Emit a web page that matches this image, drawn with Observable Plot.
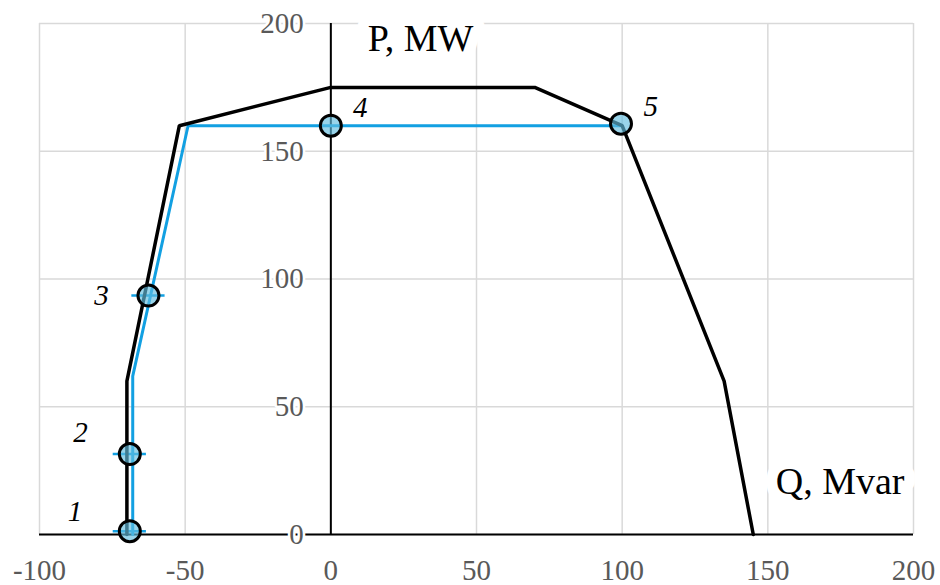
<!DOCTYPE html>
<html>
<head>
<meta charset="utf-8">
<script src="https://cdn.jsdelivr.net/npm/d3@7"></script>
<script src="https://cdn.jsdelivr.net/npm/@observablehq/plot@0.6"></script>
<style>
  html, body { margin: 0; padding: 0; background: #ffffff; }
  #chart svg { display: block; font-family: "Liberation Serif", serif; }
  #chart svg text { font-family: "Liberation Serif", serif; }
</style>
</head>
<body>
<div id="chart"></div>
<script>
// Capability curve (black): Q (Mvar), P (MW)
const limitQ = [-70, -70, -52, 0, 70, 100, 135, 145];
const limitP = [0, 60, 160, 175, 175, 160, 60, 0];

// Operating curve (blue)
const operQ = [-68, -68, -49, 0, 100];
const operP = [0, 62, 160, 160, 160];

// Numbered points
const pointId = ["1", "2", "3", "4", "5"];
const pointQ = [-69, -69, -62.6, 0, 99.6];
const pointP = [1.3, 31.5, 93.5, 160, 160.8];

// Number label anchors (data units)
const labelQ = [-85.3, -83.4, -76.2, 7.6, 107.3];
const labelP = [5.3, 36.2, 89.7, 163.3, 163.9];

// Ticks
const xTicks = [-100, -50, 0, 50, 100, 150, 200];
const yTicks = [0, 50, 100, 150, 200];
const xTitle = "Q, Mvar";
const yTitle = "P, MW";

const limit = limitQ.map((q, i) => ({q, p: limitP[i]}));
const oper = operQ.map((q, i) => ({q, p: operP[i]}));
const points = pointId.map((id, i) => ({id, q: pointQ[i], p: pointP[i], lq: labelQ[i], lp: labelP[i]}));
const leftPts = points.filter(d => d.lq < d.q);
const rightPts = points.filter(d => d.lq >= d.q);
const tickPts = points.slice(0, 3);

const serif = "Liberation Serif";

const chart = Plot.plot({
  width: 940,
  height: 585,
  marginLeft: 39,
  marginRight: 27,
  marginTop: 23,
  marginBottom: 51,
  style: {background: "#ffffff"},
  x: {domain: [-100, 200], axis: null},
  y: {domain: [0, 200], axis: null},
  marks: [
    Plot.gridX(xTicks, {stroke: "#d9d9d9", strokeOpacity: 1, strokeWidth: 1.5}),
    Plot.gridY(yTicks, {stroke: "#d9d9d9", strokeOpacity: 1, strokeWidth: 1.5}),
    Plot.ruleX([0], {stroke: "#000000", strokeWidth: 2}),
    Plot.ruleY([0], {stroke: "#000000", strokeWidth: 2}),
    // y tick labels beside the vertical axis
    Plot.text(yTicks, {x: 0, y: d => d, text: d => String(d), dx: -27, textAnchor: "end", lineAnchor: "middle",
      fontFamily: serif, fontSize: 29, fill: "#595959", stroke: "#ffffff", strokeWidth: 5}),
    // x tick labels below the horizontal axis
    Plot.text(xTicks, {x: d => d, y: 0, text: d => String(d), dy: 36, textAnchor: "middle", lineAnchor: "middle",
      fontFamily: serif, fontSize: 29, fill: "#595959"}),
    // axis titles with white background
    Plot.text([yTitle], {x: 0, y: 200, text: d => d, dx: 37, dy: 27, textAnchor: "start", lineAnchor: "bottom",
      fontFamily: serif, fontSize: 38, fill: "#000000", stroke: "#ffffff", strokeWidth: 22}),
    Plot.text([xTitle], {x: 200, y: 0, text: d => d, dx: -9, dy: -41, textAnchor: "end", lineAnchor: "bottom",
      fontFamily: serif, fontSize: 38, fill: "#000000", stroke: "#ffffff", strokeWidth: 22}),
    // curves
    Plot.line(oper, {x: "q", y: "p", stroke: "#12a0e2", strokeWidth: 3}),
    Plot.ruleY(tickPts, {y: "p", x1: d => d.q - 5.7, x2: d => d.q + 5.7, stroke: "#12a0e2", strokeWidth: 2.5}),
    Plot.line(limit, {x: "q", y: "p", stroke: "#000000", strokeWidth: 3.5, strokeLinejoin: "miter"}),
    // numbered points
    Plot.dot(points, {x: "q", y: "p", r: 10.5, fill: "#62bddf", fillOpacity: 0.65, stroke: "#000000", strokeWidth: 3}),
    Plot.text(leftPts, {x: "lq", y: "lp", text: "id", textAnchor: "end", lineAnchor: "bottom",
      fontFamily: serif, fontSize: 29, fontStyle: "italic", fill: "#000000"}),
    Plot.text(rightPts, {x: "lq", y: "lp", text: "id", textAnchor: "start", lineAnchor: "bottom",
      fontFamily: serif, fontSize: 29, fontStyle: "italic", fill: "#000000"})
  ]
});
document.getElementById("chart").appendChild(chart);
</script>
</body>
</html>
